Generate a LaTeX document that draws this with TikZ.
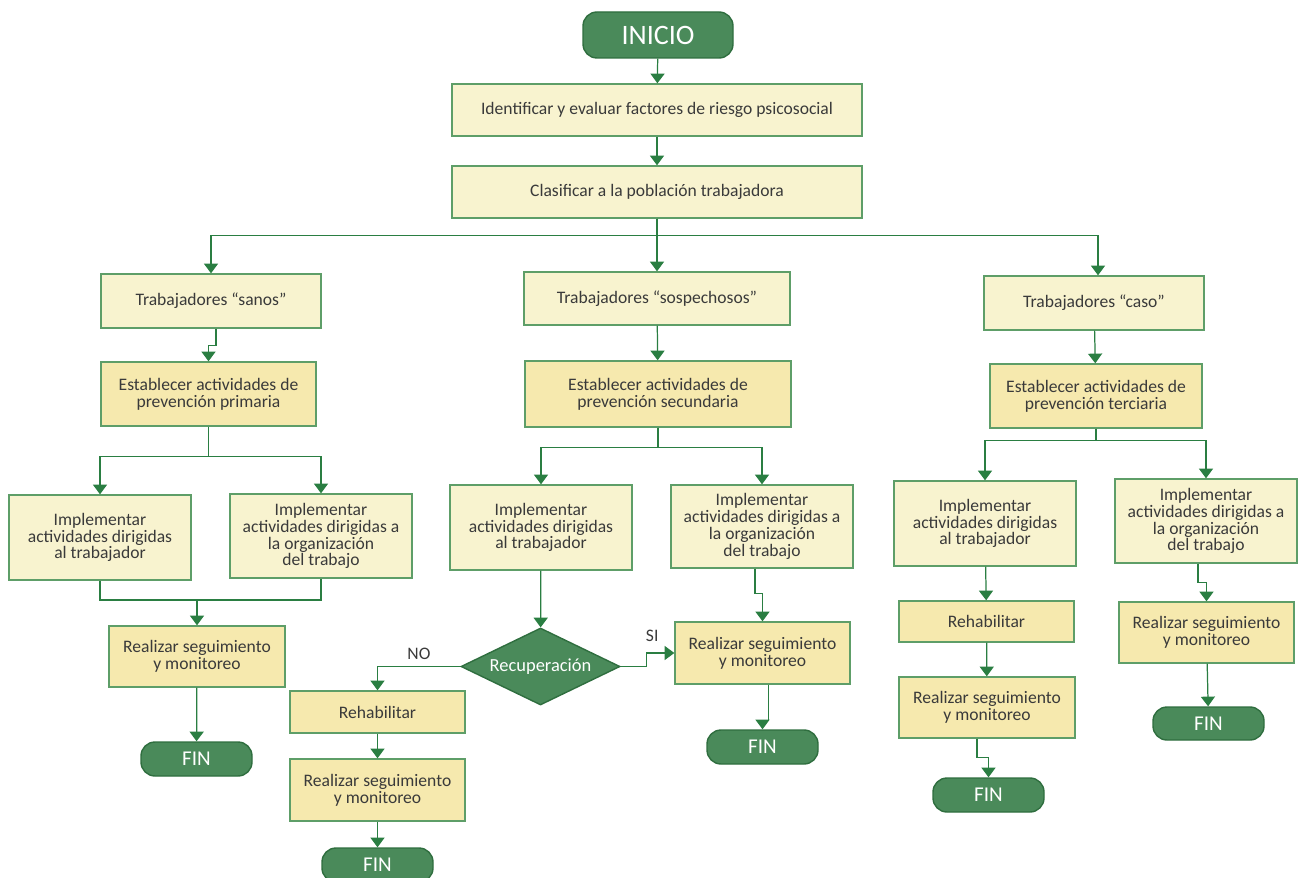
\documentclass[tikz,border=0pt]{standalone}
\usepackage{fontspec}
\setmainfont{Carlito}
\usetikzlibrary{shapes.geometric,arrows.meta}

\definecolor{boxpale}{HTML}{F8F3CF}
\definecolor{boxdark}{HTML}{F6E9AE}
\definecolor{edge}{HTML}{5E9E68}
\definecolor{flow}{HTML}{2A7E42}
\definecolor{termfill}{HTML}{4A8A5A}
\definecolor{termedge}{HTML}{2F6E3F}
\definecolor{txt}{HTML}{3A3A3A}

\begin{document}
\begin{tikzpicture}[x=0.02cm, y=-0.02cm,
    font=\fontsize{10}{9.6}\selectfont, text=txt,
    pale/.style={draw=edge, fill=boxpale, line width=0.8pt, align=center, inner sep=1pt},
    dark/.style={pale, fill=boxdark},
    term/.style={draw=termedge, fill=termfill, line width=0.8pt, rounded corners=0.28cm,
        text=white, font=\fontsize{12}{12}\selectfont},
    boxsize/.style 2 args={minimum width=#1*0.02cm, minimum height=#2*0.02cm},
    arr/.style={draw=flow, line width=0.7pt, -{Triangle[width=8pt,length=5.5pt]}}]
    \useasboundingbox (0,0) rectangle (1301,878);

    %top
    \node[term, boxsize={150}{46}, font=\fontsize{16}{16}\selectfont] (inicio) at (658,35) {INICIO};
    \node[pale, boxsize={410}{52}] (ident) at (657,110) {Identificar y evaluar factores de riesgo psicosocial};
    \node[pale, boxsize={410}{52}] (clasif) at (657,192) {Clasificar a la población trabajadora};

    %groups
    \node[pale, boxsize={220}{54}] (sanos) at (211,301) {Trabajadores “sanos”};
    \node[pale, boxsize={266}{53}] (sosp) at (657,298.5) {Trabajadores “sospechosos”};
    \node[pale, boxsize={220}{54}] (caso) at (1094,303) {Trabajadores “caso”};
    \node[dark, boxsize={215}{64}] (prim) at (208.5,394) {Establecer actividades de\\prevención primaria};
    \node[dark, boxsize={266}{66}] (secu) at (658,394) {Establecer actividades de\\prevención secundaria};
    \node[dark, boxsize={212}{64}] (terc) at (1096,396) {Establecer actividades de\\prevención terciaria};

    %primaria
    \node[pale, boxsize={182}{85}] (impT1) at (100,537.5) {Implementar\\actividades dirigidas\\al trabajador};
    \node[pale, boxsize={182}{84}] (impO1) at (321,536) {Implementar\\actividades dirigidas a\\la organización\\del trabajo};
    \node[dark, boxsize={176}{61}] (seg1) at (197,656.5) {Realizar seguimiento\\y monitoreo};
    \node[term, boxsize={111}{34}] (fin1) at (196.5,759) {FIN};

    %secundaria
    \node[pale, boxsize={182}{85}] (impT2) at (541,527.5) {Implementar\\actividades dirigidas\\al trabajador};
    \node[pale, boxsize={182}{83}] (impO2) at (762,526.5) {Implementar\\actividades dirigidas a\\la organización\\del trabajo};
    \node[diamond, aspect=2.06, draw=termedge, fill=termfill, line width=0.8pt, text=white, inner sep=0pt,
        boxsize={159}{77}, font=\fontsize{10.5}{10.5}\selectfont] (recup) at (540.5,666.5) {Recuperación};
    \node[dark, boxsize={175}{42}] (rehab2) at (377.5,712) {Rehabilitar};
    \node[dark, boxsize={175}{62}] (seg2) at (377.5,790) {Realizar seguimiento\\y monitoreo};
    \node[term, boxsize={111}{34}] (fin2) at (377.5,865) {FIN};
    \node[dark, boxsize={175}{62}] (seg3) at (762.5,653) {Realizar seguimiento\\y monitoreo};
    \node[term, boxsize={111}{34}] (fin3) at (762.5,747) {FIN};

    %terciaria
    \node[pale, boxsize={182}{85}] (impT3) at (985,523.5) {Implementar\\actividades dirigidas\\al trabajador};
    \node[pale, boxsize={182}{84}] (impO3) at (1206,521) {Implementar\\actividades dirigidas a\\la organización\\del trabajo};
    \node[dark, boxsize={175}{41}] (rehab3) at (986.5,621.5) {Rehabilitar};
    \node[dark, boxsize={176}{61}] (seg4) at (987,707.5) {Realizar seguimiento\\y monitoreo};
    \node[term, boxsize={111}{34}] (fin4) at (988.5,795) {FIN};
    \node[dark, boxsize={175}{61}] (seg5) at (1206.5,632.5) {Realizar seguimiento\\y monitoreo};
    \node[term, boxsize={111}{33}] (fin5) at (1208.5,723.5) {FIN};

    %arrows top
    \draw[arr] (inicio) -- (ident);
    \draw[arr] (ident) -- (clasif);
    \draw[arr] (clasif.south) -- (sosp.north);
    \draw[arr] (clasif.south) -- ++(0,17) -| (sanos.north);
    \draw[arr] (clasif.south) -- ++(0,17) -| ([xshift=0.08cm]caso.north);
    \draw[arr] ([xshift=0.1cm]sanos.south) -- ++(0,17) -| (prim.north);
    \draw[arr] (sosp) -- (secu);
    \draw[arr] (caso) -- (terc);

    %arrows primaria
    \draw[arr] (prim.south) -- ++(0,30) -| (impT1.north);
    \draw[arr] (prim.south) -- ++(0,30) -| (impO1.north);
    \coordinate (merge1) at (197,600);
    \draw[flow, line width=0.7pt] (impT1.south) |- (merge1) -| (impO1.south);
    \draw[arr] (merge1) -- (seg1.north);
    \draw[arr] (seg1) -- (fin1);

    %arrows secundaria
    \draw[arr] (secu.south) -- ++(0,20) -| (impT2.north);
    \draw[arr] (secu.south) -- ++(0,20) -| (impO2.north);
    \draw[arr] (impT2) -- (recup);
    \draw[arr] (recup.west) -| node[pos=0.25, above, text=txt] {NO} (rehab2.north);
    \draw[arr] (recup.east) -- ++(26,0) |- node[pos=0.6, above=3pt, text=txt] {SI} (seg3.west);
    \draw[arr] (rehab2) -- (seg2);
    \draw[arr] (seg2) -- (fin2);
    \draw[arr] ([xshift=-0.14cm]impO2.south) -- ++(0,25) -| (seg3.north);
    \draw[arr] ([xshift=0.12cm]seg3.south) -- ++(0,36) -| (fin3.north);

    %arrows terciaria
    \draw[arr] (terc.south) -- ++(0,12) -| (impT3.north);
    \draw[arr] (terc.south) -- ++(0,12) -| (impO3.north);
    \draw[arr] (impT3) -- (rehab3);
    \draw[arr] (rehab3) -- (seg4);
    \draw[arr] ([xshift=-0.2cm]seg4.south) -- ++(0,19) -| (fin4.north);
    \draw[arr] ([xshift=-0.16cm]impO3.south) -- ++(0,19) -| (seg5.north);
    \draw[arr] (seg5) -- (fin5);
\end{tikzpicture}
\end{document}
